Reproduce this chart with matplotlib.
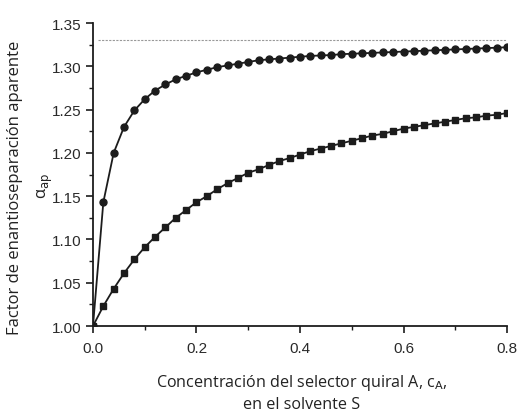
import numpy as np
import matplotlib
matplotlib.use('Agg')
import matplotlib.pyplot as plt
from matplotlib.ticker import MultipleLocator

# Concentration of chiral selector (every 0.02)
c_a = [round(0.02 * i, 2) for i in range(41)]

# Upper curve (circles)
alpha_high = [1.000, 1.143, 1.200, 1.230, 1.249, 1.262, 1.272, 1.279, 1.285, 1.289,
              1.293, 1.296, 1.299, 1.301, 1.303, 1.305, 1.307, 1.308, 1.309, 1.310,
              1.311, 1.312, 1.3125, 1.313, 1.314, 1.3145, 1.315, 1.3155, 1.316, 1.3165,
              1.317, 1.3175, 1.318, 1.3185, 1.319, 1.3195, 1.320, 1.3205, 1.321, 1.3215,
              1.322]

# Lower curve (squares)
alpha_low = [1.000, 1.023, 1.043, 1.061, 1.077, 1.091, 1.103, 1.114, 1.125, 1.134,
             1.143, 1.150, 1.158, 1.165, 1.171, 1.177, 1.181, 1.186, 1.1905, 1.194,
             1.198, 1.202, 1.205, 1.208, 1.211, 1.214, 1.217, 1.220, 1.222, 1.225,
             1.228, 1.230, 1.232, 1.234, 1.236, 1.238, 1.240, 1.241, 1.243, 1.244,
             1.246]

# Asymptote
alpha_max = 1.33

xticks = [0.0, 0.2, 0.4, 0.6, 0.8]
yticks = [1.00, 1.05, 1.10, 1.15, 1.20, 1.25, 1.30, 1.35]

fig = plt.figure(figsize=(5.18, 4.14), dpi=100)
ax = fig.add_axes([0.1795, 0.2101, 0.7993, 0.7319])

ink = '#1c1c1c'
ax.plot([0.01, 0.8], [alpha_max, alpha_max], color='#999999', lw=0.8,
        linestyle=(0, (2, 1.2)))
ax.plot(c_a, alpha_high, color=ink, lw=1.3, marker='o', markersize=5.0)
ax.plot(c_a, alpha_low, color=ink, lw=1.3, marker='s', markersize=4.3)

ax.set_xlim(0, 0.8)
ax.set_ylim(1.0, 1.35)
ax.spines['top'].set_visible(False)
ax.spines['right'].set_visible(False)
for s in ['left', 'bottom']:
    ax.spines[s].set_linewidth(1.3)
    ax.spines[s].set_color(ink)

ax.xaxis.set_minor_locator(MultipleLocator(0.1))
ax.yaxis.set_minor_locator(MultipleLocator(0.025))
ax.tick_params(which='major', length=5, width=1.2, color=ink, direction='out',
               labelsize=11, labelcolor='#2a2a2a')
ax.tick_params(axis='x', which='major', pad=6)
ax.tick_params(which='minor', length=3, width=1.0, color=ink, direction='out')
ax.set_xticks(xticks)
ax.set_xticklabels(['%.1f' % v for v in xticks], family='Liberation Sans')
ax.set_yticks(yticks)
ax.set_yticklabels(['%.2f' % v for v in yticks], family='Liberation Sans')

lab_font = 'Open Sans'
fig.text(0.583, 0.075, r'Concentración del selector quiral A, c$_{\mathrm{A}}$,',
         ha='center', va='center', fontsize=11.6, family=lab_font, color='#222222')
fig.text(0.583, 0.022, 'en el solvente S', ha='center', va='center',
         fontsize=11.6, family=lab_font, color='#222222')
fig.text(0.029, 0.546, 'Factor de enantioseparación aparente', rotation=90,
         ha='center', va='center', fontsize=12, family=lab_font, color='#222222')
fig.text(0.087, 0.55, r'α$_{\mathrm{ap}}$', rotation=90, ha='center', va='center',
         fontsize=12, family=lab_font, color='#222222')

fig.savefig('out.png', dpi=100)
